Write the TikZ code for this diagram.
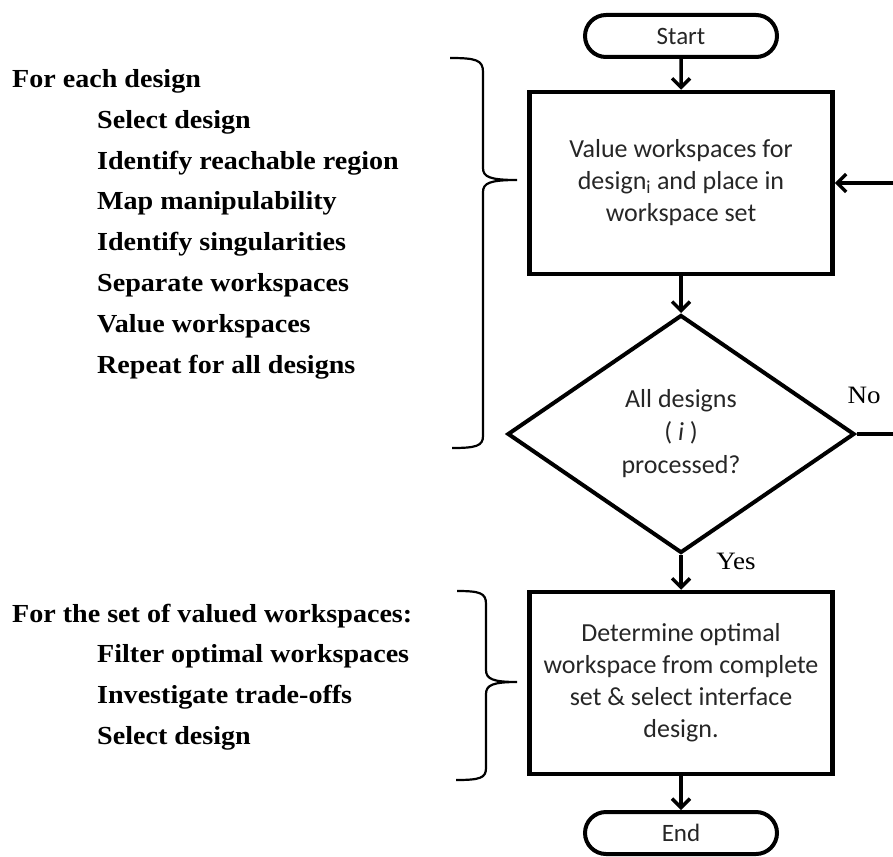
\documentclass[tikz,border=0pt]{standalone}
\usepackage{fontspec}
\setmainfont{Carlito}
\newfontfamily\listfont[FakeStretch=1.08]{Liberation Serif}
\usetikzlibrary{arrows.meta, shapes.geometric, shapes.misc}
\tikzset{>={Straight Barb[length=9pt,width=18pt]}}
\tikzset{
  termNode/.style={shape=rounded rectangle, draw=black, line width=4pt, minimum width=192pt, minimum height=42pt, inner sep=0pt, text=black!85, font=\fontsize{25}{30}\selectfont},
  procNode/.style={shape=rectangle, draw=black, line width=4.5pt, minimum width=303pt, minimum height=182pt, inner sep=0pt, align=center, text=black!85, font=\fontsize{26}{32}\selectfont},
  decNode/.style={shape=diamond, draw=black, line width=4pt, minimum width=347pt, minimum height=238pt, inner sep=0pt, align=center, text=black!85, font=\fontsize{26}{33}\selectfont},
  flowLink/.style={draw=black, ->, line width=3.5pt},
  braceLine/.style={draw=black, line width=2.2pt},
  stepText/.style={anchor=base west, inner sep=0pt, align=left, font=\listfont\bfseries\fontsize{26}{40.8}\selectfont},
  answerText/.style={inner sep=0pt, font=\listfont\fontsize{25}{30}\selectfont}
}

\begin{document}
\begin{tikzpicture}[x=1pt, y=-1pt]
  \useasboundingbox (0,0) rectangle (893,856);
  \clip (0,0) rectangle (893,856);

  % flow chart
  \node (start) [termNode] at (681,36) {Start};
  \node (val) [procNode] at (681,183) {Value workspaces for\\design\textsubscript{i} and place in\\workspace set};
  \node (dec) [decNode] at (681,434) {All designs\\( \textit{i} )\\processed?};
  \node (opt) [procNode] at (681,683) {Determine optimal\\workspace from complete\\set \& select interface\\design.};
  \node (end) [termNode] at (681,833) {End};

  \node (no) [answerText] at (864,395) {No};
  \node (yes) [answerText] at (736,561) {Yes};

  \coordinate (loopPt) at (905,434);

  \path
    (start) edge [flowLink] (val)
    (val) edge [flowLink] (dec)
    (dec) edge [flowLink] (opt)
    (opt) edge [flowLink] (end);
  \draw[flowLink] (dec.east) -- (loopPt) |- (val.east);

  % steps on the left (base = last line)
  \node (eachHead) [stepText] at (12,88) {For each design};
  \node (eachSteps) [stepText] at (97,373) {Select design\\Identify reachable region\\Map manipulability\\Identify singularities\\Separate workspaces\\Value workspaces\\Repeat for all designs};
  \node (setHead) [stepText] at (12,622) {For the set of valued workspaces:};
  \node (setSteps) [stepText] at (97,744) {Filter optimal workspaces\\Investigate trade-offs\\Select design};

  % braces
  \draw[braceLine] (450,58) .. controls (476,58) and (483,60) .. (483,72) -- (483,168)
    .. controls (483,177) and (490,180) .. (517,180)
    .. controls (490,180) and (483,183) .. (483,192) -- (483,436)
    .. controls (483,446) and (476,448) .. (452,448);
  \draw[braceLine] (457,591) .. controls (480,591) and (486,593) .. (486,604) -- (486,670)
    .. controls (486,679) and (493,682) .. (517,682)
    .. controls (493,682) and (486,685) .. (486,694) -- (486,768)
    .. controls (486,778) and (480,780) .. (456,780);
\end{tikzpicture}
\end{document}
